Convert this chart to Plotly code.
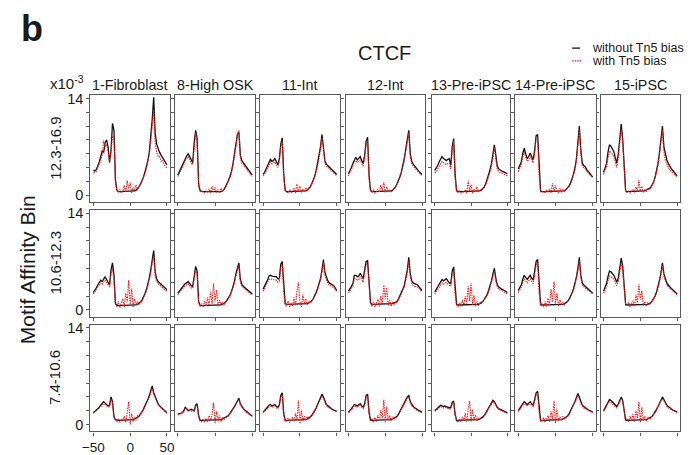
import plotly.graph_objects as go

# ---------------- data ----------------
X = list(range(-50, 51, 2))  # position relative to motif centre (bp)
CELL_TYPES = ["1-Fibroblast", "8-High OSK", "11-Int", "12-Int",
              "13-Pre-iPSC", "14-Pre-iPSC", "15-iPSC"]
AFFINITY_BINS = ["12.3-16.9", "10.6-12.3", "7.4-10.6"]
Y_LABEL_TICKS = [0, 14]
Y_MINOR_TICKS = [2, 4, 6, 8, 10, 12]
X_TICKS = [-50, 0, 50]
X_TICK_LABELS = ["\u221250", "0", "50"]

# values in units of 1e-3 ; order: x = -50 ... 50 step 2
# ---- bin 12.3-16.9 ----
r1_fibroblast_without = [3.6,3.5,3.7,4.2,4.8,5.6,6.4,6.2,7.6,8.0,
                         7.0,4.8,6.5,10.4,9.4,2.2,0.7,0.5,0.5,0.5,
                         0.5,0.5,0.5,0.5,0.5,0.5,0.5,0.5,0.6,0.7,
                         0.9,1.2,1.6,2.0,2.6,3.3,4.1,5.0,6.2,8.2,
                         11.0,14.2,9.0,7.4,6.6,6.2,5.8,5.4,5.0,4.7,4.4]
r1_fibroblast_with = [3.2,3.3,3.4,4.0,4.5,5.0,5.8,7.9,7.0,7.4,
                      6.4,4.6,6.2,8.6,8.3,1.8,0.6,0.4,0.8,0.3,
                      0.6,1.4,0.4,2.1,0.9,1.8,0.3,1.2,0.5,1.5,
                      0.7,1.3,1.4,1.9,2.5,3.1,3.8,4.7,5.9,7.8,
                      10.4,12.4,7.6,6.2,5.6,5.6,4.9,5.1,4.5,4.2,3.9]
r1_highosk_without = [2.9,3.4,3.9,4.3,4.8,5.3,5.7,6.0,5.6,5.0,
                      4.7,7.6,9.4,8.2,1.6,0.6,0.5,0.5,0.5,0.5,
                      0.5,0.5,0.4,0.5,0.5,0.5,0.4,0.5,0.5,0.5,
                      0.6,0.8,1.2,1.6,2.1,2.7,3.4,4.5,5.8,7.2,
                      8.8,9.2,5.8,5.0,4.7,4.4,4.1,3.8,3.5,3.2,2.9]
r1_highosk_with = [2.7,3.1,3.6,4.0,4.4,5.0,5.3,5.6,5.2,4.6,
                   4.4,7.0,9.0,7.8,1.4,0.6,0.4,0.5,0.3,0.6,
                   0.4,0.9,0.3,1.3,0.5,1.1,0.4,0.8,0.3,1.0,
                   0.5,0.9,1.1,1.5,2.0,2.5,3.2,4.3,5.5,7.0,
                   8.6,9.4,5.4,4.6,4.4,4.0,3.8,3.5,3.3,3.0,2.7]
r1_int11_without = [3.0,3.3,3.8,4.3,4.9,5.2,4.9,5.0,5.3,4.8,
                    4.4,5.2,7.4,8.3,3.0,0.7,0.5,0.5,0.5,0.5,
                    0.5,0.5,0.5,0.5,0.5,0.5,0.5,0.5,0.5,0.6,
                    0.7,0.9,1.2,1.6,2.1,2.7,3.5,4.5,5.6,7.0,
                    8.8,7.0,5.0,4.5,4.3,4.1,3.8,3.6,3.4,3.2,3.0]
r1_int11_with = [2.8,3.0,3.5,3.9,4.5,4.8,4.5,4.6,4.8,4.4,
                 4.0,4.9,7.0,7.9,2.6,0.6,0.5,0.3,0.7,0.4,
                 0.5,1.0,0.3,1.6,0.6,1.3,0.4,0.9,0.5,1.1,
                 0.6,1.0,1.1,1.5,2.0,2.6,3.3,4.2,5.3,6.7,
                 8.3,6.7,4.6,4.2,4.1,3.8,3.6,3.4,3.2,3.0,2.8]
r1_int12_without = [3.1,3.5,4.0,4.6,5.2,5.5,5.1,5.3,5.6,5.0,
                    4.6,5.8,7.8,8.4,2.8,0.7,0.5,0.5,0.5,0.5,
                    0.5,0.5,0.5,0.5,0.5,0.5,0.5,0.5,0.5,0.6,
                    0.7,0.9,1.2,1.6,2.1,2.7,3.4,4.3,5.4,6.8,
                    8.4,9.4,6.0,4.9,4.5,4.2,3.9,3.7,3.4,3.2,3.0]
r1_int12_with = [2.8,3.2,3.7,4.2,4.8,5.0,4.7,4.9,5.1,4.6,
                 4.2,5.4,7.3,8.0,2.4,0.6,0.4,0.7,0.3,0.5,
                 0.9,0.4,1.5,0.6,1.9,0.4,1.2,0.5,0.8,0.4,
                 0.7,1.0,1.1,1.5,2.0,2.6,3.2,4.1,5.1,6.5,
                 8.0,9.0,5.6,4.5,4.2,3.9,3.7,3.5,3.2,3.0,2.8]
r1_preipsc13_without = [3.6,3.9,4.3,4.8,5.3,5.6,5.3,5.1,5.0,5.2,
                        5.3,4.3,7.0,8.2,3.0,0.6,0.5,0.5,0.5,0.5,
                        0.5,0.5,0.5,0.5,0.5,0.5,0.5,0.5,0.5,0.5,
                        0.5,0.6,0.7,0.9,1.2,1.6,2.2,2.9,3.7,4.6,
                        6.0,7.3,5.8,4.2,3.8,3.6,3.5,3.4,3.3,3.2,3.1]
r1_preipsc13_with = [3.2,3.4,3.8,4.2,4.6,4.9,4.7,4.5,4.4,4.6,
                     4.6,3.8,6.6,7.8,2.6,0.5,0.4,0.6,0.3,0.5,
                     0.4,0.8,0.3,2.1,0.6,1.5,0.3,0.9,0.4,1.2,
                     0.5,0.8,0.7,0.9,1.1,1.5,2.0,2.6,3.3,4.1,
                     5.4,6.9,5.2,3.7,3.4,3.3,3.1,3.1,3.0,2.9,2.8]
r1_preipsc14_without = [3.8,4.3,4.8,6.0,6.8,6.0,5.3,5.6,6.1,5.6,
                        5.1,6.5,8.6,8.8,3.5,0.6,0.5,0.5,0.5,0.5,
                        0.5,0.5,0.5,0.5,0.5,0.5,0.5,0.5,0.5,0.5,
                        0.5,0.6,0.8,1.0,1.3,1.7,2.3,3.0,3.9,5.2,
                        7.6,10.0,6.6,4.6,4.3,4.1,3.7,3.4,3.1,2.8,2.6]
r1_preipsc14_with = [3.4,3.9,4.4,5.5,6.2,5.5,4.9,5.1,5.6,5.1,
                     4.7,6.0,8.2,8.4,3.0,0.5,0.4,0.6,0.3,0.7,
                     0.4,0.9,0.3,1.7,0.5,1.4,0.6,0.3,1.0,0.4,
                     0.8,0.5,0.8,1.0,1.2,1.6,2.1,2.8,3.6,4.9,
                     7.2,9.4,6.0,4.2,3.9,3.8,3.4,3.2,2.9,2.7,2.5]
r1_ipsc15_without = [3.3,3.9,4.6,6.2,7.3,7.1,6.7,6.3,5.4,4.6,
                     6.0,8.5,10.3,8.1,5.1,0.6,0.5,0.5,0.5,0.5,
                     0.5,0.5,0.5,0.5,0.5,0.5,0.5,0.5,0.6,0.7,
                     0.8,0.9,1.1,1.5,1.9,2.6,3.6,4.6,6.2,7.9,
                     10.0,7.0,5.8,5.1,4.6,4.1,3.8,3.6,3.3,3.0,2.8]
r1_ipsc15_with = [3.0,3.5,4.1,5.4,6.4,6.2,5.9,5.6,4.8,4.0,
                  5.4,7.8,9.6,7.6,4.6,0.5,0.4,0.6,0.3,0.5,
                  0.8,0.4,1.2,0.5,2.2,0.6,1.3,0.4,0.9,0.5,
                  1.0,0.7,1.0,1.4,1.8,2.4,3.3,4.3,5.8,7.5,
                  9.4,6.4,5.0,4.5,4.1,3.6,3.5,3.3,3.0,2.8,2.6]

# ---- bin 10.6-12.3 ----
r2_fibroblast_without = [2.5,2.8,3.2,3.6,4.0,4.3,4.1,4.5,4.8,4.4,
                         4.0,3.6,5.8,6.8,5.0,0.9,0.6,0.6,0.6,0.6,
                         0.6,0.6,0.6,0.6,0.6,0.6,0.6,0.6,0.6,0.7,
                         0.8,0.9,1.1,1.4,1.8,2.3,2.9,3.7,4.6,5.8,
                         7.4,8.6,5.5,4.5,4.1,3.9,3.6,3.4,3.3,3.1,2.9]
r2_fibroblast_with = [2.3,2.6,2.9,3.3,3.6,3.9,3.7,4.1,4.3,4.0,
                      3.6,3.3,5.2,6.0,4.3,0.8,0.5,1.2,0.3,0.9,
                      1.6,0.4,2.4,1.1,4.3,0.8,3.1,0.4,1.6,0.7,
                      1.2,0.8,1.0,1.3,1.7,2.1,2.7,3.4,4.3,5.4,
                      6.9,7.8,5.0,4.1,3.8,3.6,3.3,3.2,3.0,2.9,2.7]
r2_highosk_without = [2.4,2.7,3.0,3.3,3.6,3.8,3.9,4.1,3.8,3.5,
                      3.4,5.0,6.3,5.6,1.2,0.6,0.6,0.6,0.6,0.6,
                      0.6,0.6,0.6,0.6,0.6,0.6,0.6,0.6,0.6,0.7,
                      0.8,0.9,1.1,1.4,1.7,2.1,2.6,3.3,4.1,5.2,
                      6.2,6.8,4.4,3.7,3.4,3.2,3.0,2.8,2.6,2.4,2.3]
r2_highosk_with = [2.2,2.5,2.8,3.0,3.3,3.5,3.6,3.8,3.5,3.2,
                   3.1,4.6,5.8,5.1,1.0,0.5,0.9,0.4,1.3,0.5,
                   1.8,0.6,2.6,0.9,3.8,1.2,2.9,0.5,1.4,0.8,
                   1.1,0.7,1.0,1.3,1.6,2.0,2.5,3.1,3.9,4.9,
                   5.8,6.4,4.0,3.4,3.2,3.0,2.8,2.7,2.5,2.3,2.2]
r2_int11_without = [3.0,3.4,3.8,4.3,4.9,5.0,4.9,4.8,4.8,4.8,
                    4.5,4.5,6.6,7.0,3.0,0.9,0.8,0.8,0.8,0.8,
                    0.8,0.8,0.8,0.8,0.8,0.8,0.8,0.8,0.8,0.8,
                    0.9,1.0,1.1,1.3,1.6,2.0,2.5,3.1,3.8,4.5,
                    5.8,7.3,5.4,4.6,4.2,3.9,3.8,3.7,3.5,3.2,2.8]
r2_int11_with = [2.7,3.1,3.4,3.9,4.4,4.5,4.4,4.3,4.3,4.3,
                 4.0,4.1,6.0,6.5,2.6,0.7,0.5,1.3,0.4,1.0,
                 0.5,1.8,0.6,2.7,4.0,1.2,0.4,2.2,0.9,1.6,
                 0.7,1.2,1.0,1.2,1.5,1.9,2.3,2.9,3.6,4.3,
                 5.5,6.9,5.0,4.2,3.8,3.6,3.5,3.4,3.2,3.0,2.6]
r2_int12_without = [2.7,3.0,3.4,3.8,5.0,5.0,4.8,4.9,5.3,4.9,
                    4.5,5.8,7.0,7.1,3.2,1.0,0.8,0.8,0.8,0.8,
                    0.8,0.8,0.8,0.8,0.8,0.8,0.8,0.8,0.8,0.8,
                    0.9,1.0,1.1,1.2,1.6,2.0,2.4,3.0,3.6,4.5,
                    5.8,7.6,5.2,4.2,3.9,3.8,3.7,3.6,3.3,3.0,2.8]
r2_int12_with = [2.5,2.7,3.1,3.4,4.5,4.5,4.3,4.4,4.8,4.4,
                 4.0,5.3,6.5,6.6,2.8,0.8,0.5,1.1,0.4,0.9,
                 1.5,0.5,2.0,0.8,3.6,1.6,3.2,0.6,1.4,0.5,
                 1.2,0.8,1.0,1.1,1.5,1.9,2.2,2.8,3.4,4.2,
                 5.4,7.0,4.8,3.8,3.5,3.4,3.4,3.3,3.1,2.8,2.6]
r2_preipsc13_without = [2.6,2.9,3.3,3.7,4.1,4.4,4.2,4.3,4.5,4.2,
                        3.9,3.8,5.6,6.2,2.6,0.8,0.7,0.7,0.7,0.7,
                        0.7,0.7,0.7,0.7,0.7,0.7,0.7,0.7,0.7,0.7,
                        0.8,0.9,1.0,1.2,1.5,1.8,2.2,2.8,3.4,4.2,
                        5.2,6.0,4.6,3.6,3.3,3.1,3.0,2.9,2.8,2.6,2.5]
r2_preipsc13_with = [2.3,2.6,2.9,3.3,3.6,3.9,3.7,3.8,4.0,3.7,
                     3.5,3.4,5.1,5.7,2.2,0.7,0.4,1.0,0.5,1.4,
                     0.6,2.0,0.9,3.4,1.3,3.9,0.7,2.1,0.5,1.2,
                     0.6,1.0,0.9,1.1,1.4,1.7,2.1,2.6,3.2,3.9,
                     4.9,5.6,4.2,3.3,3.0,2.9,2.8,2.7,2.6,2.4,2.3]
r2_preipsc14_without = [2.8,3.2,3.6,4.4,5.0,4.7,4.4,4.7,5.0,4.6,
                        4.3,5.6,7.0,7.3,3.0,0.8,0.7,0.7,0.7,0.7,
                        0.7,0.7,0.7,0.7,0.7,0.7,0.7,0.7,0.7,0.7,
                        0.8,0.9,1.0,1.2,1.5,1.9,2.4,3.0,3.7,4.7,
                        6.0,7.6,5.0,3.9,3.6,3.4,3.2,3.0,2.8,2.6,2.4]
r2_preipsc14_with = [2.5,2.9,3.2,3.9,4.5,4.2,3.9,4.2,4.5,4.1,
                     3.8,5.1,6.5,6.8,2.6,0.6,1.0,0.4,1.2,0.5,
                     1.7,0.6,3.0,1.1,4.1,0.8,2.4,0.5,1.5,0.7,
                     1.1,0.7,0.9,1.1,1.4,1.8,2.2,2.8,3.5,4.4,
                     5.6,7.1,4.6,3.6,3.3,3.1,3.0,2.8,2.7,2.5,2.3]
r2_ipsc15_without = [2.7,3.2,3.8,4.8,5.6,5.5,5.2,5.0,4.5,4.0,
                     4.6,6.3,7.5,6.3,3.5,0.8,0.7,0.7,0.7,0.7,
                     0.7,0.7,0.7,0.7,0.7,0.7,0.7,0.7,0.7,0.8,
                     0.8,0.9,1.0,1.3,1.6,2.0,2.6,3.3,4.3,5.4,
                     6.8,5.2,4.4,3.9,3.6,3.3,3.1,2.9,2.7,2.5,2.3]
r2_ipsc15_with = [2.4,2.8,3.3,4.2,4.9,4.8,4.6,4.4,4.0,3.5,
                  4.1,5.7,6.9,5.8,3.1,0.7,0.5,1.1,0.4,0.8,
                  1.3,0.5,2.2,1.0,3.7,1.5,2.8,0.6,1.2,0.5,
                  1.0,0.8,0.9,1.2,1.5,1.9,2.4,3.1,4.0,5.1,
                  6.4,4.8,4.0,3.6,3.3,3.1,2.9,2.7,2.5,2.4,2.2]

# ---- bin 7.4-10.6 ----
r3_fibroblast_without = [1.7,1.9,2.0,2.2,2.5,2.8,3.0,3.3,3.1,2.9,
                         2.7,2.8,4.0,3.3,1.2,0.7,0.6,0.6,0.6,0.6,
                         0.6,0.6,0.6,0.6,0.6,0.6,0.6,0.7,0.8,0.9,
                         1.0,1.2,1.5,1.8,2.2,2.7,3.1,3.6,4.2,4.9,
                         5.6,4.6,4.0,3.4,3.0,2.7,2.5,2.3,2.1,1.9,1.7]
r3_fibroblast_with = [1.6,1.8,1.9,2.1,2.3,2.6,2.8,3.0,2.9,2.7,
                      2.5,2.6,3.7,3.1,1.0,0.6,0.4,0.9,0.3,0.8,
                      0.5,1.2,0.3,1.8,3.3,0.0,1.6,0.4,1.1,0.6,
                      1.3,1.1,1.4,1.7,2.1,2.6,3.0,3.5,4.0,4.6,
                      5.2,4.4,3.8,3.3,2.9,2.6,2.4,2.2,2.0,1.8,1.6]
r3_highosk_without = [1.5,1.6,1.7,1.7,2.0,2.5,2.3,2.0,2.1,2.2,
                      2.1,2.0,2.8,3.0,1.3,0.6,0.6,0.6,0.6,0.6,
                      0.6,0.6,0.6,0.6,0.6,0.6,0.6,0.6,0.6,0.7,
                      0.8,0.9,1.0,1.1,1.3,1.6,1.9,2.3,2.6,3.0,
                      3.4,3.8,3.0,2.6,2.3,2.1,1.9,1.7,1.5,1.4,1.2]
r3_highosk_with = [1.4,1.5,1.6,1.6,1.9,2.3,2.2,1.9,2.0,2.0,
                   1.9,1.9,2.6,2.8,1.1,0.5,0.4,0.8,0.3,0.9,
                   0.4,1.3,0.6,1.5,3.2,0.2,1.9,0.5,1.3,0.4,
                   1.1,0.7,0.9,1.0,1.2,1.5,1.8,2.2,2.5,2.9,
                   3.3,3.6,2.8,2.5,2.2,2.0,1.8,1.6,1.5,1.3,1.2]
r3_int11_without = [1.8,2.0,2.2,2.5,2.8,2.9,2.7,2.8,2.9,2.6,
                    2.5,2.8,4.2,4.6,1.6,0.6,0.6,0.6,0.6,0.6,
                    0.6,0.6,0.6,0.6,0.6,0.6,0.6,0.6,0.6,0.7,
                    0.8,0.9,1.1,1.3,1.6,2.0,2.4,2.9,3.4,3.9,
                    4.4,4.0,3.3,2.9,2.7,2.5,2.3,2.2,2.1,2.0,1.9]
r3_int11_with = [1.7,1.9,2.0,2.3,2.6,2.7,2.5,2.6,2.7,2.4,
                 2.3,2.6,3.9,4.3,1.4,0.5,0.4,0.9,0.3,0.7,
                 1.1,0.4,1.6,0.7,3.5,0.1,2.0,0.5,1.2,0.6,
                 1.2,0.8,1.0,1.2,1.5,1.9,2.3,2.8,3.3,3.7,
                 4.1,3.8,3.1,2.7,2.5,2.4,2.2,2.1,2.0,1.9,1.8]
r3_int12_without = [1.8,2.0,2.3,2.6,2.9,2.8,2.7,2.9,3.0,2.7,
                    2.5,3.0,4.2,4.4,1.8,0.6,0.6,0.6,0.6,0.6,
                    0.6,0.6,0.6,0.6,0.6,0.6,0.6,0.6,0.6,0.7,
                    0.8,0.9,1.0,1.2,1.5,1.9,2.3,2.7,3.2,3.7,
                    4.0,4.2,3.3,2.9,2.6,2.4,2.3,2.1,2.0,1.9,1.8]
r3_int12_with = [1.7,1.9,2.1,2.4,2.7,2.6,2.5,2.7,2.8,2.5,
                 2.3,2.8,3.9,4.1,1.5,0.5,0.9,0.3,1.0,0.4,
                 1.4,0.5,2.1,0.9,3.6,0.3,2.6,0.6,1.3,0.5,
                 1.1,0.8,0.9,1.1,1.4,1.8,2.2,2.6,3.0,3.5,
                 3.8,4.0,3.1,2.7,2.5,2.3,2.2,2.0,1.9,1.8,1.7]
r3_preipsc13_without = [2.0,2.2,2.4,2.6,2.8,2.7,2.6,2.7,2.6,2.5,
                        2.4,2.5,3.2,3.4,1.5,0.6,0.6,0.6,0.6,0.6,
                        0.6,0.6,0.6,0.6,0.6,0.6,0.6,0.6,0.6,0.6,
                        0.7,0.8,0.9,1.1,1.3,1.6,2.0,2.4,2.8,3.2,
                        3.5,3.3,2.8,2.5,2.3,2.2,2.1,2.0,1.9,1.8,1.7]
r3_preipsc13_with = [1.9,2.0,2.2,2.4,2.6,2.5,2.4,2.5,2.4,2.3,
                     2.2,2.3,3.0,3.2,1.3,0.5,0.3,0.8,0.4,1.1,
                     0.5,1.7,0.4,2.3,3.4,0.4,2.2,0.6,1.4,0.5,
                     1.0,0.7,0.8,1.0,1.2,1.5,1.9,2.3,2.6,3.0,
                     3.3,3.1,2.7,2.4,2.2,2.1,2.0,1.9,1.8,1.7,1.6]
r3_preipsc14_without = [2.0,2.3,2.6,3.0,3.3,3.1,2.9,3.1,3.3,3.0,
                        2.8,3.6,4.6,4.8,2.0,0.6,0.6,0.6,0.6,0.6,
                        0.6,0.6,0.6,0.6,0.6,0.6,0.6,0.6,0.6,0.7,
                        0.8,0.9,1.0,1.2,1.5,1.9,2.3,2.8,3.3,3.9,
                        4.5,4.0,3.2,2.8,2.6,2.4,2.3,2.1,2.0,1.9,1.8]
r3_preipsc14_with = [1.9,2.1,2.4,2.8,3.0,2.9,2.7,2.9,3.0,2.8,
                     2.6,3.3,4.3,4.5,1.7,0.5,0.4,1.0,0.3,0.8,
                     1.3,0.4,1.9,0.8,3.4,0.2,2.3,0.5,1.1,0.6,
                     1.2,0.8,0.9,1.1,1.4,1.8,2.2,2.7,3.1,3.6,
                     4.2,3.8,3.0,2.6,2.4,2.3,2.2,2.0,1.9,1.8,1.7]
r3_ipsc15_without = [2.0,2.4,2.9,3.3,3.6,3.5,3.3,3.1,2.8,2.6,
                     3.0,3.6,4.0,3.5,2.2,0.6,0.6,0.6,0.6,0.6,
                     0.6,0.6,0.6,0.6,0.6,0.6,0.6,0.6,0.6,0.7,
                     0.8,0.9,1.0,1.2,1.5,1.8,2.2,2.6,3.1,3.6,
                     4.0,3.6,3.1,2.8,2.6,2.4,2.2,2.1,2.0,1.9,1.8]
r3_ipsc15_with = [1.9,2.2,2.6,3.0,3.3,3.2,3.0,2.9,2.6,2.4,
                  2.8,3.3,3.7,3.3,2.0,0.5,0.9,0.4,1.2,0.5,
                  1.5,0.4,2.0,0.9,3.3,0.3,2.5,0.6,1.2,0.5,
                  1.1,0.8,0.9,1.1,1.4,1.7,2.1,2.5,2.9,3.4,
                  3.8,3.4,2.9,2.6,2.4,2.3,2.1,2.0,1.9,1.8,1.7]

GRID = [
    [(r1_fibroblast_without, r1_fibroblast_with), (r1_highosk_without, r1_highosk_with),
     (r1_int11_without, r1_int11_with), (r1_int12_without, r1_int12_with),
     (r1_preipsc13_without, r1_preipsc13_with), (r1_preipsc14_without, r1_preipsc14_with),
     (r1_ipsc15_without, r1_ipsc15_with)],
    [(r2_fibroblast_without, r2_fibroblast_with), (r2_highosk_without, r2_highosk_with),
     (r2_int11_without, r2_int11_with), (r2_int12_without, r2_int12_with),
     (r2_preipsc13_without, r2_preipsc13_with), (r2_preipsc14_without, r2_preipsc14_with),
     (r2_ipsc15_without, r2_ipsc15_with)],
    [(r3_fibroblast_without, r3_fibroblast_with), (r3_highosk_without, r3_highosk_with),
     (r3_int11_without, r3_int11_with), (r3_int12_without, r3_int12_with),
     (r3_preipsc13_without, r3_preipsc13_with), (r3_preipsc14_without, r3_preipsc14_with),
     (r3_ipsc15_without, r3_ipsc15_with)],
]

# ---------------- layout ----------------
W, H = 690, 455
COL_PX = [(84, 165), (170, 252), (257, 338), (344, 425), (432, 512), (517, 599), (604, 685)]
ROW_PX = [(93, 202), (210, 319), (327, 436)]
FONT = "Liberation Sans, Arial, Helvetica, sans-serif"
TXT = "#1a1a1a"
BOX = "#5a5a5a"

fig = go.Figure()
layout = {}
for r in range(3):
    for c in range(7):
        k = r * 7 + c + 1
        sfx = "" if k == 1 else str(k)
        blk, red = GRID[r][c]
        assert len(blk) == len(X) and len(red) == len(X), (r, c, len(blk), len(red))
        fig.add_trace(go.Scatter(x=X, y=blk, mode="lines", xaxis="x" + sfx, yaxis="y" + sfx,
                                 line=dict(color="#111111", width=1.3), showlegend=False,
                                 hoverinfo="skip"))
        fig.add_trace(go.Scatter(x=X, y=red, mode="lines", xaxis="x" + sfx, yaxis="y" + sfx,
                                 line=dict(color="#ff1a1a", width=1.1, dash="1.5px,1px"),
                                 showlegend=False, hoverinfo="skip"))
        x0, x1 = COL_PX[c]
        y0, y1 = ROW_PX[r]
        show_x = (r == 2 and c == 0)
        show_y = (c == 0)
        layout["xaxis" + sfx] = dict(
            domain=[x0 / W, x1 / W], anchor="y" + sfx, range=[-54, 54],
            tickmode="array", tickvals=X_TICKS, ticktext=X_TICK_LABELS,
            showticklabels=show_x,
            ticks="outside", ticklen=3, tickwidth=1, tickcolor=BOX,
            showline=True, mirror=True, linecolor=BOX, linewidth=1.3,
            showgrid=False, zeroline=False, fixedrange=True,
            tickfont=dict(family=FONT, size=13.5, color=TXT))
        layout["yaxis" + sfx] = dict(
            domain=[1 - y1 / H, 1 - y0 / H], anchor="x" + sfx, range=[-1.0, 14.5],
            tickmode="array", tickvals=Y_LABEL_TICKS,
            ticktext=[str(v) for v in Y_LABEL_TICKS],
            showticklabels=show_y,
            ticks="outside", ticklen=3, tickwidth=1, tickcolor=BOX,
            minor=dict(tickmode="array", tickvals=Y_MINOR_TICKS, ticks="outside",
                       ticklen=3, tickwidth=1, tickcolor=BOX, showgrid=False),
            showline=True, mirror=True, linecolor=BOX, linewidth=1.3,
            showgrid=False, zeroline=False, fixedrange=True,
            tickfont=dict(family=FONT, size=14.5, color=TXT))

ann = []
def add_text(text, x, y, size, xanchor="center", yanchor="middle", angle=0, bold=False):
    ann.append(dict(text=("<b>%s</b>" % text) if bold else text, x=x / W, y=1 - y / H,
                    xref="paper", yref="paper", showarrow=False, xanchor=xanchor,
                    yanchor=yanchor, textangle=angle,
                    font=dict(family=FONT, size=size, color=TXT)))

add_text("b", 24, 25, 36, bold=True)
add_text("CTCF", 384, 50, 20)
add_text("x10<sup>-3</sup>", 79, 80, 15, xanchor="right")
for c, name in enumerate(CELL_TYPES):
    add_text(name, (COL_PX[c][0] + COL_PX[c][1]) / 2, 83, 14.3)
for r, name in enumerate(AFFINITY_BINS):
    add_text(name, 48, (ROW_PX[r][0] + ROW_PX[r][1]) / 2, 15, angle=-90)
add_text("Motif Affinity Bin", 20, 271, 21, angle=-90)
add_text("without Tn5 bias", 593, 45, 12.5, xanchor="left")
add_text("with Tn5 bias", 593, 58, 12.5, xanchor="left")

shapes = [
    dict(type="line", xref="paper", yref="paper", x0=575 / W, x1=583 / W,
         y0=1 - 45 / H, y1=1 - 45 / H, line=dict(color="#111111", width=1.3)),
    dict(type="line", xref="paper", yref="paper", x0=575 / W, x1=584 / W,
         y0=1 - 58 / H, y1=1 - 58 / H, line=dict(color="#ff1a1a", width=1.1, dash="1.5px,1px")),
]

fig.update_layout(**layout)
fig.update_layout(width=W, height=H, autosize=False,
                  margin=dict(l=0, r=0, t=0, b=0),
                  paper_bgcolor="white", plot_bgcolor="white",
                  annotations=ann, shapes=shapes, showlegend=False)

fig.write_html("out.html", config={"displayModeBar": False})
